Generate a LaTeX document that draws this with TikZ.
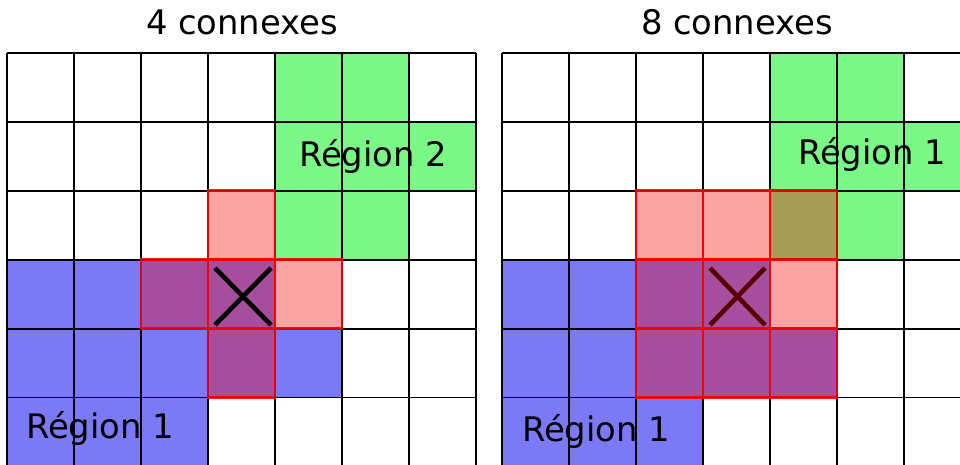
\documentclass[tikz,border=0pt]{standalone}
\usepackage{fontspec}
\setmainfont{DejaVu Sans}
\usepackage{tikz}

\begin{document}
\begin{tikzpicture}[x=1pt,y=1pt,
  gridline/.style={draw=black,line width=1.8pt},
  voisin/.style={draw=voisinColor,draw opacity=0.9,line width=2.8pt,fill=voisinColor,fill opacity=0.36},
  croix/.style={draw=#1,line width=4.6pt},
  etiquette/.style={anchor=base,inner sep=0pt,outer sep=0pt,font=\fontsize{33.8}{40}\selectfont}]
\definecolor{fillColor}{RGB}{255,255,255}
\path[use as bounding box,fill=fillColor] (0,0) rectangle (960,464);
\definecolor{greenColor}{RGB}{122,247,135}
\definecolor{blueColor}{RGB}{124,121,246}
\definecolor{voisinColor}{RGB}{245,0,0}

% 4 connexes
\begin{scope}
\path[clip] (0,0) rectangle (960,464);

\path[fill=greenColor] (275,342.1) rectangle (409,411.0);
\path[fill=greenColor] (275,273.2) rectangle (476,342.1);
\path[fill=greenColor] (275,204.3) rectangle (409,273.2);

\path[fill=blueColor] (  7,135.4) rectangle (275,204.3);
\path[fill=blueColor] (  7, 66.5) rectangle (342,135.4);
\path[fill=blueColor] (  7, -2.4) rectangle (208, 66.5);

\path[gridline] (  7,411.0) -- (  7,-2.4);
\path[gridline] ( 74,411.0) -- ( 74,-2.4);
\path[gridline] (141,411.0) -- (141,-2.4);
\path[gridline] (208,411.0) -- (208,-2.4);
\path[gridline] (275,411.0) -- (275,-2.4);
\path[gridline] (342,411.0) -- (342,-2.4);
\path[gridline] (409,411.0) -- (409,-2.4);
\path[gridline] (476,411.0) -- (476,-2.4);

\path[gridline] (7,411.0) -- (476,411.0);
\path[gridline] (7,342.1) -- (476,342.1);
\path[gridline] (7,273.2) -- (476,273.2);
\path[gridline] (7,204.3) -- (476,204.3);
\path[gridline] (7,135.4) -- (476,135.4);
\path[gridline] (7, 66.5) -- (476, 66.5);

\path[voisin] (208,204.3) rectangle (275,273.2);
\path[voisin] (141,135.4) rectangle (208,204.3);
\path[voisin] (208,135.4) rectangle (275,204.3);
\path[voisin] (275,135.4) rectangle (342,204.3);
\path[voisin] (208, 66.5) rectangle (275,135.4);

\path[croix=black] (215,196.0) -- (271,139.0);
\path[croix=black] (215,139.0) -- (271,196.0);

\node[etiquette] at (242,429) {4 connexes};
\node[etiquette] at (373,297) {Région 2};
\node[etiquette] at (100, 26) {Région 1};
\end{scope}

% 8 connexes
\begin{scope}
\path[clip] (0,0) rectangle (960,464);

\path[fill=greenColor] (770,342.1) rectangle (904,411.0);
\path[fill=greenColor] (770,273.2) rectangle (971,342.1);
\path[fill=greenColor] (770,204.3) rectangle (904,273.2);

\path[fill=blueColor] (502,135.4) rectangle (770,204.3);
\path[fill=blueColor] (502, 66.5) rectangle (837,135.4);
\path[fill=blueColor] (502, -2.4) rectangle (703, 66.5);

\path[gridline] (502,411.0) -- (502,-2.4);
\path[gridline] (569,411.0) -- (569,-2.4);
\path[gridline] (636,411.0) -- (636,-2.4);
\path[gridline] (703,411.0) -- (703,-2.4);
\path[gridline] (770,411.0) -- (770,-2.4);
\path[gridline] (837,411.0) -- (837,-2.4);
\path[gridline] (904,411.0) -- (904,-2.4);

\path[gridline] (502,411.0) -- (971,411.0);
\path[gridline] (502,342.1) -- (971,342.1);
\path[gridline] (502,273.2) -- (971,273.2);
\path[gridline] (502,204.3) -- (971,204.3);
\path[gridline] (502,135.4) -- (971,135.4);
\path[gridline] (502, 66.5) -- (971, 66.5);

\path[croix=black] (710,196.0) -- (765,139.0);
\path[croix=black] (710,139.0) -- (765,196.0);

\path[voisin] (636,204.3) rectangle (703,273.2);
\path[voisin] (703,204.3) rectangle (770,273.2);
\path[voisin] (770,204.3) rectangle (837,273.2);
\path[voisin] (636,135.4) rectangle (703,204.3);
\path[voisin] (703,135.4) rectangle (770,204.3);
\path[voisin] (770,135.4) rectangle (837,204.3);
\path[voisin] (636, 66.5) rectangle (703,135.4);
\path[voisin] (703, 66.5) rectangle (770,135.4);
\path[voisin] (770, 66.5) rectangle (837,135.4);

\node[etiquette] at (737,429) {8 connexes};
\node[etiquette] at (872,299) {Région 1};
\node[etiquette] at (596, 23) {Région 1};
\end{scope}
\end{tikzpicture}
\end{document}
